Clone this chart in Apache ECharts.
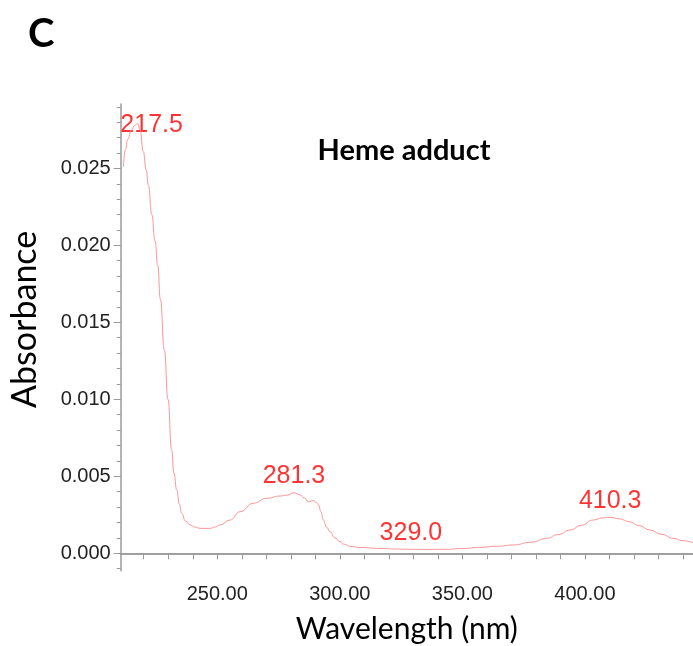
<!DOCTYPE html>
<html>
<head>
<meta charset="utf-8">
<script src="https://cdn.jsdelivr.net/npm/echarts@6/dist/echarts.min.js"></script>
<style>
  html, body { margin: 0; padding: 0; background: #fff; }
  #chart { width: 693px; height: 646px; }
</style>
</head>
<body>
<div id="chart"></div>
<script>
// UV-vis spectrum
const wavelength = [211.7, 212.5, 213.5, 215.0, 216.3, 217.5, 218.5, 219.8, 221.0, 221.9,
  223.3, 224.6, 225.7, 226.8, 228.4, 229.9, 231.4, 232.3, 233.5,
  234.5, 235.5, 237.0, 238.9, 241.0, 243.0, 247.0, 249.0, 251.1, 255.2,
  259.3, 264.7, 270.2, 275.6, 278.5, 281.3, 283.8, 285.5, 287.2, 289.2,
  290.5, 291.3, 292.3, 293.3, 294.6, 296.0, 298.0, 300.1, 302.0, 304.2,
  308.0, 316.4, 323.0, 329.0, 336.0, 343.7, 350.0, 357.3, 364.0, 370.9,
  378.0, 384.5, 389.0, 394.0, 398.5, 403.5, 407.0, 410.3, 414.0, 418.2,
  422.0, 426.6, 431.0, 436.2, 440.0, 444.1]
const absorbance = [0.0251, 0.0262, 0.0269, 0.0275, 0.0278, 0.0279, 0.0275, 0.0261, 0.0249, 0.0239,
  0.0220, 0.0203, 0.0187, 0.0165, 0.0132, 0.0100, 0.0067, 0.0052, 0.0041,
  0.0032, 0.0026, 0.0021, 0.00184, 0.0017, 0.00162, 0.00162, 0.0017, 0.00184, 0.00216,
  0.0027, 0.00325, 0.00357, 0.00372, 0.00378, 0.00393, 0.00379, 0.0036, 0.00335, 0.00342,
  0.0033, 0.00314, 0.0027, 0.00216, 0.0017, 0.0014, 0.0010, 0.00075, 0.00058, 0.00045,
  0.00038, 0.00032, 0.00028, 0.00026, 0.00025, 0.00026, 0.00031, 0.00039, 0.00046, 0.00054,
  0.00072, 0.00097, 0.00122, 0.00151, 0.00182, 0.00216, 0.00230, 0.00234, 0.00224, 0.00205,
  0.00180, 0.00151, 0.00124, 0.00097, 0.00082, 0.00069]

const peakWavelength = [217.5, 281.3, 329.0, 410.3]
const peakAbsorbance = [0.0279, 0.00393, 0.00026, 0.00234]

const xMajorTicks = [250, 300, 350, 400]
const xMinorTicks = [220, 230, 240, 250, 260, 270, 280, 290, 300, 310, 320, 330, 340,
  350, 360, 370, 380, 390, 400, 410, 420, 430, 440]
const yMajorTicks = [0, 0.005, 0.010, 0.015, 0.020, 0.025]
const yMinorTicks = [-0.001, 0, 0.001, 0.002, 0.003, 0.004, 0.005, 0.006, 0.007, 0.008, 0.009,
  0.010, 0.011, 0.012, 0.013, 0.014, 0.015, 0.016, 0.017, 0.018, 0.019, 0.020,
  0.021, 0.022, 0.023, 0.024, 0.025, 0.026, 0.027, 0.028, 0.029]

const X_MIN = 210.6, X_MAX = 444.1
const Y_MIN = -0.00113, Y_MAX = 0.02918

const chart = echarts.init(document.getElementById('chart'))

const axisGray = '#9a9a9a'
const tickFont = { fontFamily: 'Liberation Sans', fontSize: 20, color: '#222' }

const spectrum = wavelength.map((w, i) => [w, absorbance[i]])
// label placement per peak (first one sits inside the plot top)
const peakLabelOffsets = [[14, 18], [0, 0], [0, 0], [0, 0]]
const peaks = peakWavelength.map((w, i) => ({
  value: [w, peakAbsorbance[i]],
  label: { offset: peakLabelOffsets[i] }
}))

chart.setOption({
  animation: false,
  title: [
    {
      text: 'C',
      left: 23, top: 9,
      textStyle: { fontFamily: 'Lato', fontWeight: 'bold', fontSize: 40, color: '#000' }
    },
    {
      text: 'Heme adduct',
      left: 399, top: 131,
      textAlign: 'center',
      textStyle: { fontFamily: 'Lato', fontWeight: 'bold', fontSize: 29, color: '#000' }
    }
  ],
  grid: { left: 120.7, top: 104, right: 0, bottom: 75.3, outerBoundsMode: 'none' },
  xAxis: [
    {
      type: 'value',
      min: X_MIN, max: X_MAX,
      name: 'Wavelength (nm)',
      nameLocation: 'middle',
      nameGap: 44,
      nameTextStyle: { fontFamily: 'Lato', fontSize: 30, color: '#000' },
      axisLine: { show: true, lineStyle: { color: axisGray, width: 1.5 } },
      axisTick: { show: true, length: 6, customValues: xMinorTicks, lineStyle: { color: axisGray } },
      axisLabel: {
        customValues: xMajorTicks,
        margin: 14,
        formatter: v => v.toFixed(2),
        ...tickFont
      },
      splitLine: { show: false }
    },
    {
      type: 'value',
      position: 'top',
      min: X_MIN, max: X_MAX,
      axisLine: { show: true, lineStyle: { color: axisGray, width: 1.5 } },
      axisTick: { show: false },
      axisLabel: { show: false },
      splitLine: { show: false }
    }
  ],
  yAxis: [
    {
      type: 'value',
      min: Y_MIN, max: Y_MAX,
      name: 'Absorbance',
      nameLocation: 'middle',
      nameGap: 79,
      nameTextStyle: { fontFamily: 'Lato', fontSize: 34, color: '#000', padding: [0, 0, 0, 36] },
      axisLine: { show: true, lineStyle: { color: axisGray, width: 1.5 } },
      axisTick: { show: true, length: 7, customValues: yMajorTicks, lineStyle: { color: axisGray } },
      axisLabel: {
        customValues: yMajorTicks,
        margin: 10,
        formatter: v => v.toFixed(3),
        ...tickFont
      },
      splitLine: { show: false }
    },
    {
      type: 'value',
      position: 'left',
      min: Y_MIN, max: Y_MAX,
      axisLine: { show: false },
      axisTick: { show: true, length: 4, customValues: yMinorTicks, lineStyle: { color: axisGray } },
      axisLabel: { show: false },
      splitLine: { show: false }
    }
  ],
  series: [
    {
      name: 'spectrum',
      type: 'line',
      data: spectrum,
      smooth: 0.5,
      smoothMonotone: 'x',
      showSymbol: false,
      lineStyle: { color: '#ff9494', width: 1 },
      silent: true
    },
    {
      name: 'peaks',
      type: 'scatter',
      data: peaks,
      symbolSize: 0,
      label: {
        show: true,
        position: 'top',
        distance: 4,
        formatter: p => p.value[0].toFixed(1),
        fontFamily: 'Liberation Sans',
        fontSize: 25,
        color: '#ff0000'
      },
      silent: true
    }
  ]
})
</script>
</body>
</html>
